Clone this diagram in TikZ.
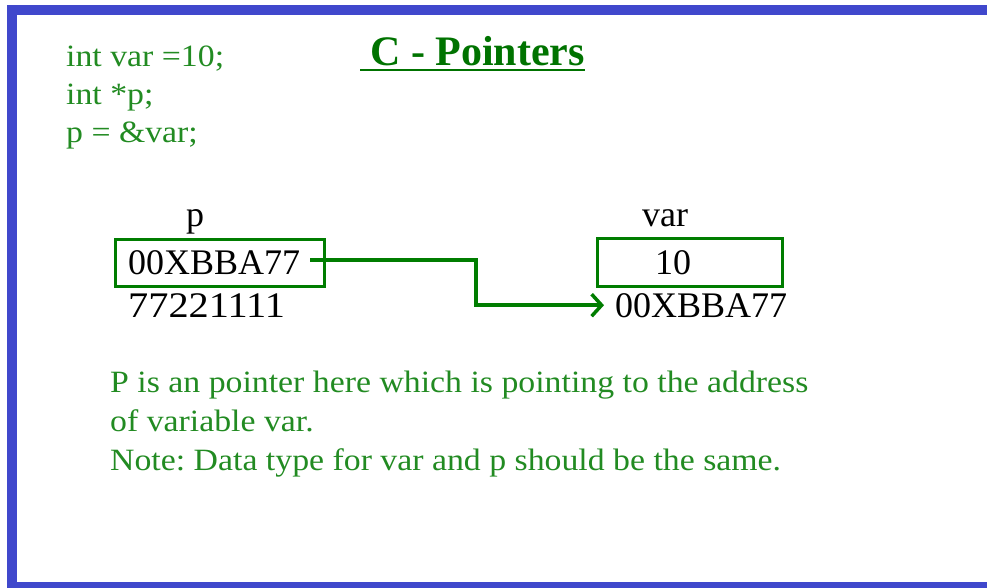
\documentclass[tikz,border=0pt]{standalone}
\usepackage{fontspec}
\setmainfont{Liberation Serif}
\newfontfamily\widefont[FakeStretch=1.09]{Liberation Serif}
\newfontfamily\digitfont[FakeStretch=1.12]{Liberation Serif}
\usetikzlibrary{arrows.meta}
\definecolor{frameblue}{RGB}{64,72,204}
\definecolor{codegreen}{RGB}{34,139,34}
\definecolor{titlegreen}{RGB}{0,115,0}
\definecolor{boxgreen}{RGB}{0,125,0}
\frenchspacing

\begin{document}
\begin{tikzpicture}[x=1pt,y=-1pt,
		txt/.style={anchor=base west,inner sep=0pt},
		code/.style={txt,text=codegreen,font=\widefont\fontsize{31}{38}\selectfont},
		val/.style={txt,font=\fontsize{36}{40}\selectfont},
		cell/.style={draw=boxgreen,line width=3pt,inner sep=0pt}]
				\useasboundingbox (0,0) rectangle (987,588);
				\clip (0,0) rectangle (987,588);
				% Frame
				\draw[frameblue,line width=10pt] (11.5,10) rectangle (1000,587);
				
				% Title
				\node[txt,text=titlegreen,font=\bfseries\fontsize{42}{48}\selectfont] (title) at (370,66) {C - Pointers};
				\draw[titlegreen,line width=2.5pt] ([xshift=-10pt,yshift=-4pt]title.base west) -- ([yshift=-4pt]title.base east);
				
				% Code
				\node[code] (line1) at (66,67) {int var =10;};
				\node[code] (line2) at (66,105) {int *p;};
				\node[code] (line3) at (66,143) {p = \&var;};
				
				% Pointer p
				\node[val] (pname) at (186,226) {p};
				\node[cell,minimum width=209pt,minimum height=47pt] (pbox) at (219.5,262.5) {};
				\node[val] (pval) at (128,274) {00XBBA77};
				\node[val,font=\digitfont\fontsize{36}{40}\selectfont] (paddr) at (128,317) {77221111};
				
				% Variable var
				\node[val] (vname) at (642,226) {var};
				\node[cell,minimum width=185pt,minimum height=48pt] (vbox) at (689.5,262) {};
				\node[val,anchor=base] (vval) at (673,274) {10};
				\node[val] (vaddr) at (615,317) {00XBBA77};
				
				% Arrow
				\coordinate (pstart) at (310,260);
				\draw[boxgreen,line width=3.5pt,-{Straight Barb[length=10pt,width=22pt]}] (pstart) -- ++(166,0) |- ([xshift=-11pt]vaddr.west);
				
				% Note
				\node[code] (note1) at (110,392) {P is an pointer here which is pointing to the address};
				\node[code] (note2) at (110,431) {of variable var.};
				\node[code] (note3) at (110,470) {Note: Data type for var and p should be the same.};
			\end{tikzpicture}
\end{document}
